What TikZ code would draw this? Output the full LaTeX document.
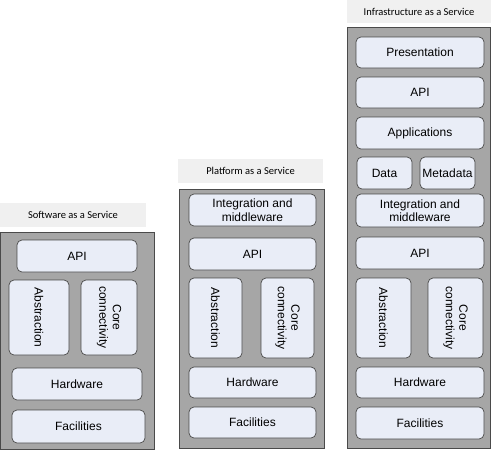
\documentclass[tikz,border=0pt]{standalone}
\usepackage{fontspec}
\setmainfont{Liberation Sans}
\newfontfamily\titlefont{Carlito}
\definecolor{outerfill}{HTML}{A6A6A6}
\definecolor{boxfill}{HTML}{E9EDF7}
\definecolor{edge}{HTML}{4A4A4A}
\definecolor{titlebg}{HTML}{F0F0F0}
\begin{document}
\begin{tikzpicture}[x=1pt,y=-1pt,
  outerbox/.style={draw=edge, fill=outerfill, line width=0.8pt, inner sep=0pt},
  layer/.style={draw=edge, fill=boxfill, line width=0.7pt, rounded corners=5pt, inner sep=1pt,
    align=center, font=\fontsize{12}{13.5}\selectfont},
  vlayer/.style={layer, rotate=-90},
  titlebox/.style={fill=titlebg, inner sep=0pt, font=\titlefont\fontsize{10.5}{12}\selectfont}
]
\useasboundingbox (0,0) rectangle (493,450);
% ---------- Software as a Service ----------
\node[titlebox, minimum width=146pt, minimum height=24pt] (st) at (73,215) {Software as a Service};
\node[outerbox, minimum width=154pt, minimum height=217pt] (so) at (77.5,340.5) {};
\node[layer, minimum width=120pt, minimum height=32pt] (sapi) at (77,256) {API};
\node[vlayer, minimum width=75pt, minimum height=60pt] (sabs) at (39,317.5) {Abstraction};
\node[vlayer, minimum width=75pt, minimum height=56pt] (score) at (109,317.5) {Core\\connectivity};
\node[layer, minimum width=130pt, minimum height=32pt] (shw) at (77,384) {Hardware};
\node[layer, minimum width=133pt, minimum height=33pt] (sfac) at (78.5,426.5) {Facilities};
% ---------- Platform as a Service ----------
\node[titlebox, minimum width=145pt, minimum height=24pt] (pt) at (250.5,171) {Platform as a Service};
\node[outerbox, minimum width=145pt, minimum height=259pt] (po) at (251.5,318.5) {};
\node[layer, minimum width=127pt, minimum height=32pt] (pint) at (252.5,210) {Integration and\\middleware};
\node[layer, minimum width=127pt, minimum height=32pt] (papi) at (252.5,254) {API};
\node[vlayer, minimum width=80pt, minimum height=53pt] (pabs) at (215.5,318) {Abstraction};
\node[vlayer, minimum width=80pt, minimum height=53pt] (pcore) at (287.5,318) {Core\\connectivity};
\node[layer, minimum width=127pt, minimum height=31pt] (phw) at (252.5,382.5) {Hardware};
\node[layer, minimum width=127pt, minimum height=31pt] (pfac) at (252.5,422.5) {Facilities};
% ---------- Infrastructure as a Service ----------
\node[titlebox, minimum width=144pt, minimum height=23pt] (it) at (419,11.5) {Infrastructure as a Service};
\node[outerbox, minimum width=143pt, minimum height=421pt] (io) at (418.5,237.5) {};
\node[layer, minimum width=128pt, minimum height=31pt] (ipres) at (420,52.5) {Presentation};
\node[layer, minimum width=128pt, minimum height=31pt] (iapi) at (420,92.5) {API};
\node[layer, minimum width=128pt, minimum height=32pt] (iapp) at (420,133) {Applications};
\node[layer, minimum width=55pt, minimum height=32pt] (idata) at (384.5,173) {Data};
\node[layer, minimum width=55pt, minimum height=32pt] (imeta) at (447.5,173) {Metadata};
\node[layer, minimum width=128pt, minimum height=33pt] (iint) at (420,210.5) {Integration and\\middleware};
\node[layer, minimum width=128pt, minimum height=32pt] (iapi2) at (420,253) {API};
\node[vlayer, minimum width=80pt, minimum height=55pt] (iabs) at (383.5,318) {Abstraction};
\node[vlayer, minimum width=80pt, minimum height=55pt] (icore) at (455.5,318) {Core\\connectivity};
\node[layer, minimum width=128pt, minimum height=31pt] (ihw) at (420,382.5) {Hardware};
\node[layer, minimum width=128pt, minimum height=32pt] (ifac) at (420,423) {Facilities};
\end{tikzpicture}
\end{document}
